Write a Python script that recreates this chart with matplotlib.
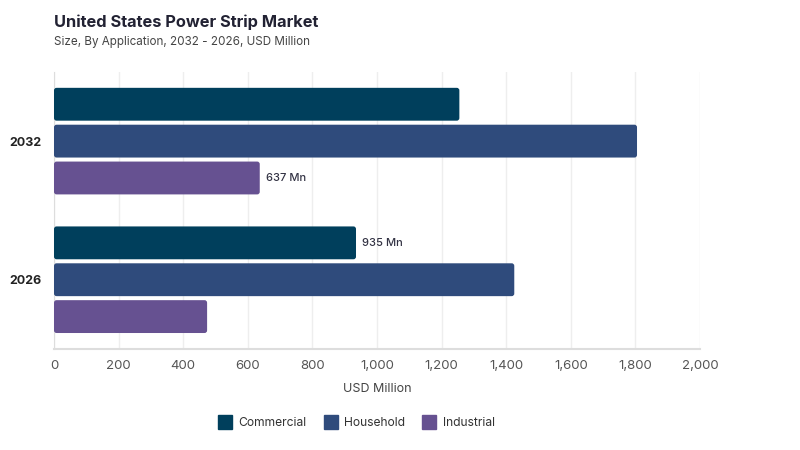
import matplotlib.pyplot as plt
import numpy as np
from matplotlib.patches import FancyBboxPatch
from matplotlib.lines import Line2D

plt.rcParams['font.family'] = ['Inter', 'DejaVu Sans']

years = ['2026', '2032']
segments = ['Commercial', 'Household', 'Industrial']
commercial = [935, 1255]
household = [1425, 1805]
industrial = [474, 637]
colors = ['#003f5c', '#2f4b7c', '#665191']

fig = plt.figure(figsize=(8, 4.5), dpi=100)
ax = fig.add_axes([0.0675, 0.2244, 0.8075, 0.616])

ypos = np.arange(len(years))
h = 0.237
step = 0.266
series = [commercial, household, industrial]
bars = []
for i, vals in enumerate(series):
    b = ax.barh(ypos + (1 - i) * step, vals, height=h, color=colors[i], label=segments[i])
    bars.append(b)

# swap bars for rounded ones
aspect = (2.0 / 277) / (2000 / 646)
for b in bars:
    for p in b.patches:
        x, y = p.get_x(), p.get_y()
        w, hh = p.get_width(), p.get_height()
        r = FancyBboxPatch((x, y), w, hh, boxstyle='round,pad=0,rounding_size=8',
                           mutation_aspect=aspect, facecolor=p.get_facecolor(),
                           edgecolor='none', zorder=3)
        p.set_visible(False)
        ax.add_patch(r)

# value labels
ax.text(industrial[1] + 20, ypos[1] - step, '637 Mn', va='center', ha='left',
        fontsize=8, color='#333344', fontweight='medium')
ax.text(commercial[0] + 20, ypos[0] + step, '935 Mn', va='center', ha='left',
        fontsize=8, color='#333344', fontweight='medium')

ax.set_xlim(0, 2000)
ax.set_ylim(-0.5, 1.5)
ax.set_xticks(np.arange(0, 2001, 200))
ax.set_xticklabels([f'{v:,}' for v in range(0, 2001, 200)])
ax.set_yticks(ypos)
ax.set_yticklabels(years, fontweight='bold', fontsize=9, color='#222222')
ax.tick_params(axis='x', length=0, labelsize=9.5, labelcolor='#555555', pad=8)
ax.tick_params(axis='y', length=0, pad=9)
ax.grid(axis='x', color='#eeeeee', linewidth=1, zorder=0)
ax.set_axisbelow(True)
for s in ['top', 'right']:
    ax.spines[s].set_visible(False)
ax.spines['left'].set_color('#dddddd')
ax.spines['bottom'].set_color('#dddddd')
ax.spines['bottom'].set_linewidth(1.5)
ax.set_xlabel('USD Million', fontsize=9, color='#444444', labelpad=8)

fig.text(54 / 800, 1 - 22 / 450, 'United States Power Strip Market', fontsize=11.8,
         fontweight='bold', color='#222233', va='center')
fig.text(54 / 800, 1 - 42 / 450, 'Size, By Application, 2032 - 2026, USD Million', fontsize=8.4,
         color='#444444', va='center')

handles = [Line2D([0], [0], marker='s', linestyle='none', markersize=10.5,
                  markerfacecolor=c, markeredgecolor=c) for c in colors]
fig.legend(handles, segments, loc='center', bbox_to_anchor=(354 / 800, 1 - 423 / 450),
           ncol=3, frameon=False, fontsize=8.7, handletextpad=0.1, columnspacing=1.0,
           labelcolor='#333333')

fig.savefig('out.png')
